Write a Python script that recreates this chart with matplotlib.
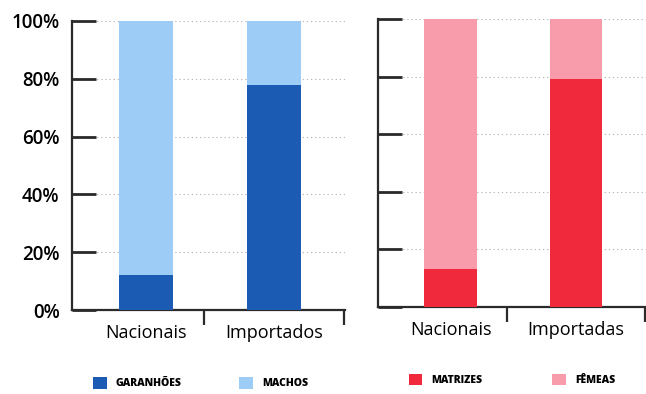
import numpy as np
import matplotlib.pyplot as plt
from matplotlib.ticker import FuncFormatter

plt.rcParams['font.family'] = ['Open Sans', 'DejaVu Sans']

# percentual por origem
cat_machos = ['Nacionais', 'Importados']
garanhoes = [12, 78]
machos = [88, 22]

cat_femeas = ['Nacionais', 'Importadas']
matrizes = [13, 79]
femeas = [87, 21]

azul_esc, azul_cla = '#1c5bb4', '#9dcdf6'
verm, rosa = '#f02a3c', '#f89cab'

fig = plt.figure(figsize=(6.46, 3.94), dpi=100)
ax1 = fig.add_axes([0.1115, 0.213, 0.423, 0.734])
ax2 = fig.add_axes([0.585, 0.221, 0.415, 0.731])

def desenha(ax, cats, base, topo, c1, c2, lab1, lab2, rotulos_y, espaco, cx):
    x = np.arange(len(cats))
    larg = 0.42
    b1 = ax.bar(x, base, larg, color=c1, label=lab1, zorder=3)
    b2 = ax.bar(x, topo, larg, bottom=base, color=c2, label=lab2, zorder=3)
    ax.set_ylim(0, 100)
    ax.set_xlim(-0.58, 1.56)
    ax.set_yticks(range(0, 101, 20))
    ax.yaxis.set_major_formatter(FuncFormatter(lambda v, p: f'{int(v)}%'))
    ax.grid(axis='y', linestyle=(0, (1.2, 2.5)), color='#b8b8b8', lw=0.8, zorder=0)
    for s in ['top', 'right']:
        ax.spines[s].set_visible(False)
    for s in ['left', 'bottom']:
        ax.spines[s].set_color('#2a2a2a')
        ax.spines[s].set_linewidth(1.6)
    ax.tick_params(axis='y', direction='in', length=17, width=2, color='#2a2a2a',
                   labelsize=13.5, pad=9, labelleft=rotulos_y)
    for t in ax.get_yticklabels():
        t.set_fontweight(600)
    ax.set_xticks(x)
    ax.set_xticklabels(cats)
    ax.tick_params(axis='x', length=0, labelsize=13, pad=10)
    ax.set_xticks([0.45, 1.55], minor=True)
    ax.tick_params(axis='x', which='minor', direction='out', length=11, width=1.6, color='#2a2a2a')
    leg = ax.legend(handles=[b1, b2], loc='upper center', bbox_to_anchor=(cx, -0.2),
                    ncol=2, frameon=False, handlelength=1.3, handleheight=1.3,
                    handletextpad=0.9, columnspacing=espaco,
                    prop={'size': 7.5, 'weight': 'heavy'})
    return leg

desenha(ax1, cat_machos, garanhoes, machos, azul_esc, azul_cla, 'GARANHÕES', 'MACHOS', True, 5.5, 0.47)
desenha(ax2, cat_femeas, matrizes, femeas, verm, rosa, 'MATRIZES', 'FÊMEAS', False, 6.7, 0.5)

plt.savefig('out.png', dpi=100)
